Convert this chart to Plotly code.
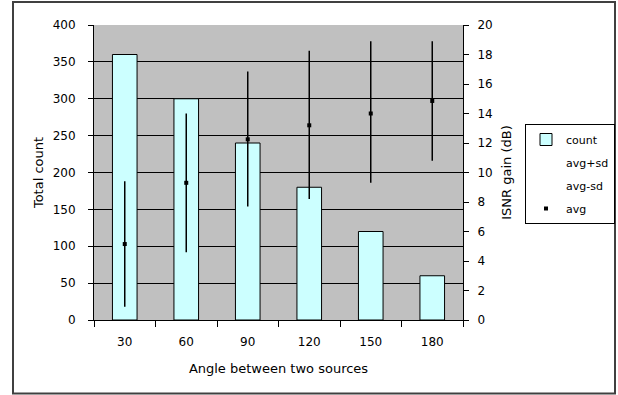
import plotly.graph_objects as go

# Data
angles = ["30", "60", "90", "120", "150", "180"]
count = [360, 300, 240, 180, 120, 60]
avg = [5.15, 9.3, 12.25, 13.2, 14.0, 14.85]
avg_plus_sd = [9.4, 14.0, 16.85, 18.25, 18.9, 18.9]
avg_minus_sd = [0.9, 4.6, 7.7, 8.2, 9.3, 10.8]

FONT = "DejaVu Sans, Verdana, sans-serif"
W, H = 618, 395
L, R, T, B = 94, 155, 25, 75
PW, PH = W - L - R, H - T - B
TICK = dict(family=FONT, size=12, color="black")
TITLE = dict(family=FONT, size=13, color="black")

def px_x(p):
    return (p - L) / PW

def px_y(p):
    return (H - B - p) / PH

fig = go.Figure()

fig.add_trace(go.Bar(
    x=angles, y=count, name="count", width=0.4,
    marker=dict(color="#CCFFFF", line=dict(color="black", width=1)),
    legendgroup="a",
))

# high-low lines
xs, ys = [], []
for a, lo, hi in zip(angles, avg_minus_sd, avg_plus_sd):
    xs += [a, a, None]
    ys += [lo, hi, None]
fig.add_trace(go.Scatter(
    x=xs, y=ys, mode="lines", yaxis="y2", showlegend=False,
    line=dict(color="black", width=1.5), hoverinfo="skip",
))

fig.add_trace(go.Scatter(
    x=angles, y=avg_plus_sd, name="avg+sd", mode="markers", yaxis="y2",
    marker=dict(color="rgba(0,0,0,0)", size=1), legendgroup="b",
))
fig.add_trace(go.Scatter(
    x=angles, y=avg_minus_sd, name="avg-sd", mode="markers", yaxis="y2",
    marker=dict(color="rgba(0,0,0,0)", size=1), legendgroup="c",
))
fig.add_trace(go.Scatter(
    x=angles, y=avg, name="avg", mode="markers", yaxis="y2",
    marker=dict(color="black", size=4, symbol="square"), legendgroup="d",
))

fig.update_layout(
    width=W, height=H,
    margin=dict(l=L, r=R, t=T, b=B, autoexpand=False),
    paper_bgcolor="white",
    plot_bgcolor="#C0C0C0",
    font=dict(family=FONT, size=12, color="black"),
    showlegend=True,
    legend=dict(
        xref="container", yref="container",
        x=525 / W, y=1 - 124 / H, xanchor="left", yanchor="top",
        bordercolor="black", borderwidth=1, bgcolor="white",
        font=dict(family=FONT, size=11), traceorder="grouped", tracegroupgap=4,
        itemwidth=30,
    ),
    xaxis=dict(
        type="category", tickson="boundaries", ticks="outside", ticklen=6,
        tickcolor="black", showline=True, linecolor="black", linewidth=1,
        showgrid=False, ticklabelstandoff=11, automargin=False, tickfont=TICK,
        title=dict(text="Angle between two sources", standoff=15, font=TITLE),
    ),
    yaxis=dict(
        range=[0, 400], dtick=50, ticks="outside", ticklen=5, tickcolor="black",
        showline=True, linecolor="black", linewidth=1,
        showgrid=True, gridcolor="black", gridwidth=1, zeroline=False,
        ticklabelstandoff=10, automargin=False, tickfont=TICK,
        title=dict(text="Total count", standoff=6, font=TITLE),
    ),
    yaxis2=dict(
        range=[0, 20], dtick=2, overlaying="y", side="right",
        ticks="outside", ticklen=5, tickcolor="black",
        showline=True, linecolor="black", linewidth=1,
        showgrid=False, zeroline=False, ticklabelstandoff=6, automargin=False,
        tickfont=TICK,
        title=dict(text="ISNR gain (dB)", standoff=10, font=TITLE),
    ),
    yaxis3=dict(
        range=[0, 20], dtick=2, overlaying="y", side="right", anchor="x",
        ticks="inside", ticklen=4, tickcolor="black", automargin=False,
        showline=False, showgrid=False, zeroline=False, showticklabels=False,
    ),
    bargap=0.6,
    shapes=[dict(
        type="rect", xref="paper", yref="paper",
        x0=px_x(13), x1=px_x(615), y0=px_y(393.5), y1=px_y(2),
        line=dict(color="#404040", width=2), fillcolor="rgba(0,0,0,0)",
        layer="below",
    )],
)

fig.write_html(
    "out.html",
    config={"displayModeBar": False, "responsive": False},
    post_script="document.body.style.margin='0';document.body.style.overflow='hidden';",
)
